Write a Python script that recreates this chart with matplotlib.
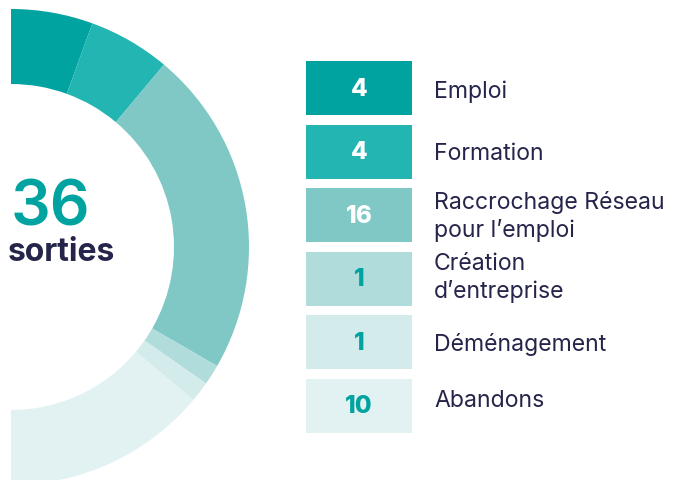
import matplotlib.pyplot as plt

# donut data (half donut, right side)
categories = ["Emploi", "Formation", "Raccrochage Réseau\npour l\u2019emploi",
              "Création\nd\u2019entreprise", "Déménagement", "Abandons"]
values = [4, 4, 16, 1, 1, 10]
colors = ["#00A39F", "#23B5B2", "#7FC8C6", "#B0DCDB", "#D4EBEB", "#E2F2F2"]
num_colors = ["white", "white", "white", "#00A39F", "#00A39F", "#00A39F"]
total = sum(values)

W, H = 679, 481
dark = "#25244A"
teal = "#00A39F"
plt.rcParams['font.family'] = ['Inter', 'DejaVu Sans']

fig = plt.figure(figsize=(W / 100, H / 100), dpi=100)
ax = fig.add_axes([0, 0, 1, 1])

# hidden slice of same size fills the left half so the rest spans 180 degrees
wedges, _ = ax.pie(values + [total], colors=colors + ["none"], startangle=90,
                   counterclock=False, center=(11, H - 248), radius=238,
                   wedgeprops=dict(width=75, linewidth=0), frame=False)
wedges[-1].set_visible(False)

ax.set_xlim(0, W)
ax.set_ylim(0, H)
ax.set_aspect("equal")
ax.axis("off")

# centre label
ax.text(11, H - 226, str(total), color=teal, fontsize=45, fontweight="semibold",
        ha="left", va="baseline")
ax.text(8, H - 261, "sorties", color=dark, fontsize=23, fontweight="bold",
        ha="left", va="baseline")

# legend boxes
top0, step, bh = 62, 63.6, 54
label_dy = [3, 1, 0, -2, 1, -6]
for i, (cat, v) in enumerate(zip(categories, values)):
    top = top0 + i * step
    yc = H - (top + bh / 2)
    ax.add_patch(plt.Rectangle((306, H - top - bh), 106, bh, color=colors[i], lw=0))
    ax.text(359, yc, str(v), color=num_colors[i], fontsize=17.5, fontweight="heavy",
            ha="center", va="center")
    ax.text(434, yc - label_dy[i], cat, color=dark, fontsize=16.6, ha="left",
            va="center", linespacing=1.3)

fig.savefig("out.png", dpi=100)
